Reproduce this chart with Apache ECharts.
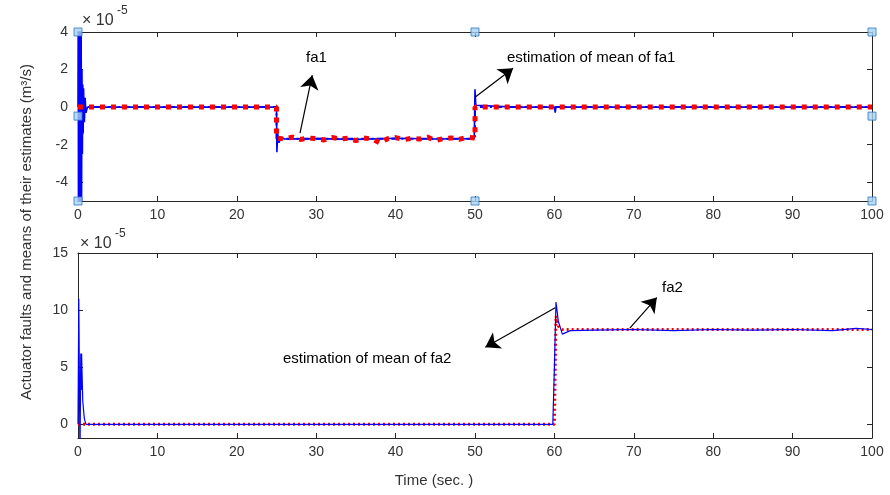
<!DOCTYPE html>
<html>
<head>
<meta charset="utf-8">
<script src="https://cdn.jsdelivr.net/npm/echarts@6/dist/echarts.min.js"></script>
<style>
  html, body { margin: 0; padding: 0; background: #fff; }
  #main { width: 890px; height: 495px; }
</style>
</head>
<body>
<div id="main"></div>
<script>
var chartDom = document.getElementById('main');
var myChart = echarts.init(chartDom);

// top panel: fa1 (x 1e-5)
const fa1T = [0, 25, 25, 26, 27, 28, 29, 30, 31, 32, 33, 34, 35, 36, 37, 38, 39, 40, 41, 42, 43, 44, 45, 46, 47, 48, 49, 50, 50, 100];
const fa1V = [0, 0, -1.65, -1.7, -1.6, -1.72, -1.65, -1.68, -1.75, -1.62, -1.7, -1.66, -1.78, -1.64, -1.7, -1.9, -1.68, -1.62, -1.74, -1.66, -1.7, -1.6, -1.78, -1.68, -1.64, -1.72, -1.6, -1.65, 0, 0];
const est1T = [0, 0.03, 0.06, 0.09, 0.12, 0.15, 0.18, 0.21, 0.24, 0.27, 0.3, 0.33, 0.36, 0.4, 0.45, 0.5, 0.55, 0.6, 0.65, 0.7, 0.8, 0.9, 1.0, 1.2, 10, 20, 25, 25.05, 25.15, 25.3, 25.6, 26, 30, 35, 40, 45, 49.9, 50, 50.1, 50.3, 55, 60, 60.1, 60.2, 70, 80, 90, 100];
const est1V = [0, 6, -7, 6, -7, 6, -7, 6, -7, 5, -6, 5, -6, 4, -5, 2, -2.5, 1.2, -1.4, 1.0, -0.8, 0.5, -0.3, 0, 0, 0, 0, -2.4, -1.4, -1.9, -1.6, -1.7, -1.68, -1.72, -1.66, -1.7, -1.68, 0.95, 0.1, 0, 0, 0, -0.3, 0, 0, 0, 0, 0];
const mean1T = [0, 25, 25, 50, 50, 100];
const mean1V = [0, 0, -1.68, -1.68, 0, 0];
const boxT = [0, 0, 0, 50, 50, 100, 100, 100];
const boxV = [4, -0.48, -5, 4, -5, 4, -0.48, -5];

// bottom panel: fa2 (x 1e-5)
const fa2T = [0, 60, 60.2, 60.5, 61, 100];
const fa2V = [0, 0, 9.5, 8.6, 8.3, 8.3];
const est2T = [0, 0.1, 0.2, 0.25, 0.35, 0.4, 0.45, 0.6, 0.7, 0.8, 1.0, 10, 20, 30, 40, 50, 59.8, 60, 60.2, 60.5, 61, 62, 65, 70, 75, 80, 85, 90, 95, 98, 100];
const est2V = [0, 11, 11, -3, 6.2, 3, 6.2, 2, 2, 0.5, 0, 0, 0, 0, 0, 0, 0, 5, 10.7, 9.0, 7.9, 8.2, 8.25, 8.3, 8.2, 8.3, 8.25, 8.3, 8.2, 8.4, 8.3];

const yTicksTop = [-4, -2, 0, 2, 4];
const yTicksBot = [0, 5, 10, 15];

const zip = (t, v) => t.map((x, i) => [x, v[i]]);
const font = 'Liberation Sans, Arial, sans-serif';
const ink = '#262626';

function xAx(grid, pos, labels) {
    return {
        type: 'value', gridIndex: grid, position: pos, min: 0, max: 100, interval: 10,
        axisLine: { show: true, onZero: false, lineStyle: { color: ink, width: 1 } },
        axisTick: { show: true, inside: true, length: 5, lineStyle: { color: ink } },
        axisLabel: { show: labels, margin: 7, color: '#333', fontSize: 14, fontFamily: font },
        splitLine: { show: false }
    };
}
function yAx(grid, pos, labels, min, max, ticks) {
    return {
        type: 'value', gridIndex: grid, position: pos, min: min, max: max,
        axisLine: { show: true, onZero: false, lineStyle: { color: ink, width: 1 } },
        axisTick: { show: true, inside: true, length: 5, customValues: ticks, lineStyle: { color: ink } },
        axisLabel: { show: labels, margin: 10, customValues: ticks, color: '#333', fontSize: 14, fontFamily: font },
        splitLine: { show: false }
    };
}
function arrows(list) {
    return {
        silent: true, animation: false,
        symbol: ['none', 'arrow'], symbolSize: 14,
        label: { show: false },
        lineStyle: { color: '#000', width: 1.2, type: 'solid' },
        data: list.map(a => [{ coord: a[0] }, { coord: a[1] }])
    };
}

var option = {
    animation: false,
    backgroundColor: '#fff',
    grid: [
        { left: 78, top: 32, width: 794, height: 169 },
        { left: 78, top: 253, width: 794, height: 185 }
    ],
    xAxis: [xAx(0, 'bottom', true), xAx(0, 'top', false), xAx(1, 'bottom', true), xAx(1, 'top', false)],
    yAxis: [
        yAx(0, 'left', true, -5, 4, yTicksTop), yAx(0, 'right', false, -5, 4, yTicksTop),
        yAx(1, 'left', true, -1.2, 15, yTicksBot), yAx(1, 'right', false, -1.2, 15, yTicksBot)
    ],
    series: [
        {
            name: 'mean est fa1', type: 'line', xAxisIndex: 0, yAxisIndex: 0, symbol: 'none',
            data: zip(mean1T, mean1V),
            lineStyle: { color: '#0000ff', width: 2, type: [7, 3, 2, 3] }
        },
        {
            name: 'est fa1', type: 'line', xAxisIndex: 0, yAxisIndex: 0, symbol: 'none',
            data: zip(est1T, est1V),
            lineStyle: { color: '#0000ff', width: 1.6 }
        },
        {
            name: 'fa1', type: 'line', xAxisIndex: 0, yAxisIndex: 0, symbol: 'none',
            data: zip(fa1T, fa1V),
            lineStyle: { color: '#ff0000', width: 5, type: [5, 6] },
            markLine: arrows([
                [[27.96, -1.38], [29.5, 1.7]],
                [[50.0, 0.53], [54.8, 2.07]]
            ])
        },
        {
            name: 'box', type: 'scatter', xAxisIndex: 0, yAxisIndex: 0,
            symbol: 'rect', symbolSize: 8, z: 5,
            itemStyle: { color: '#a9d2f2', borderColor: '#2e76c0', borderWidth: 1 },
            data: zip(boxT, boxV)
        },
        {
            name: 'fa2', type: 'line', xAxisIndex: 2, yAxisIndex: 2, symbol: 'none',
            data: zip(fa2T, fa2V),
            lineStyle: { color: '#ff0000', width: 3, type: [2, 3] },
            markLine: arrows([
                [[69.5, 8.42], [72.9, 11.1]],
                [[60.1, 10.2], [51.3, 6.75]]
            ])
        },
        {
            name: 'est fa2', type: 'line', xAxisIndex: 2, yAxisIndex: 2, symbol: 'none',
            data: zip(est2T, est2V),
            lineStyle: { color: '#0000ff', width: 1.2 }
        }
    ],
    graphic: [
        { type: 'text', left: 82, top: 13, style: { text: '× 10', font: '16px ' + font, fill: '#333' } },
        { type: 'text', left: 117, top: 5, style: { text: '-5', font: '12px ' + font, fill: '#333' } },
        { type: 'text', left: 80, top: 236, style: { text: '× 10', font: '16px ' + font, fill: '#333' } },
        { type: 'text', left: 115, top: 228, style: { text: '-5', font: '12px ' + font, fill: '#333' } },
        { type: 'text', x: 306, y: 50, style: { text: 'fa1', font: '15px ' + font, fill: '#000' } },
        { type: 'text', x: 507, y: 50, style: { text: 'estimation of mean of fa1', font: '15px ' + font, fill: '#000' } },
        { type: 'text', x: 662, y: 280, style: { text: 'fa2', font: '15px ' + font, fill: '#000' } },
        { type: 'text', x: 283, y: 351, style: { text: 'estimation of mean of fa2', font: '15px ' + font, fill: '#000' } },
        { type: 'text', x: 434, y: 481, style: { text: 'Time (sec. )', font: '15px ' + font, fill: '#333', align: 'center', verticalAlign: 'middle' } },
        {
            type: 'text', x: 27, y: 232, rotation: Math.PI / 2,
            style: { text: 'Actuator faults and means of their estimates (m³/s)', font: '15px ' + font, fill: '#333', align: 'center', verticalAlign: 'middle' }
        }
    ]
};

myChart.setOption(option);
</script>
</body>
</html>
